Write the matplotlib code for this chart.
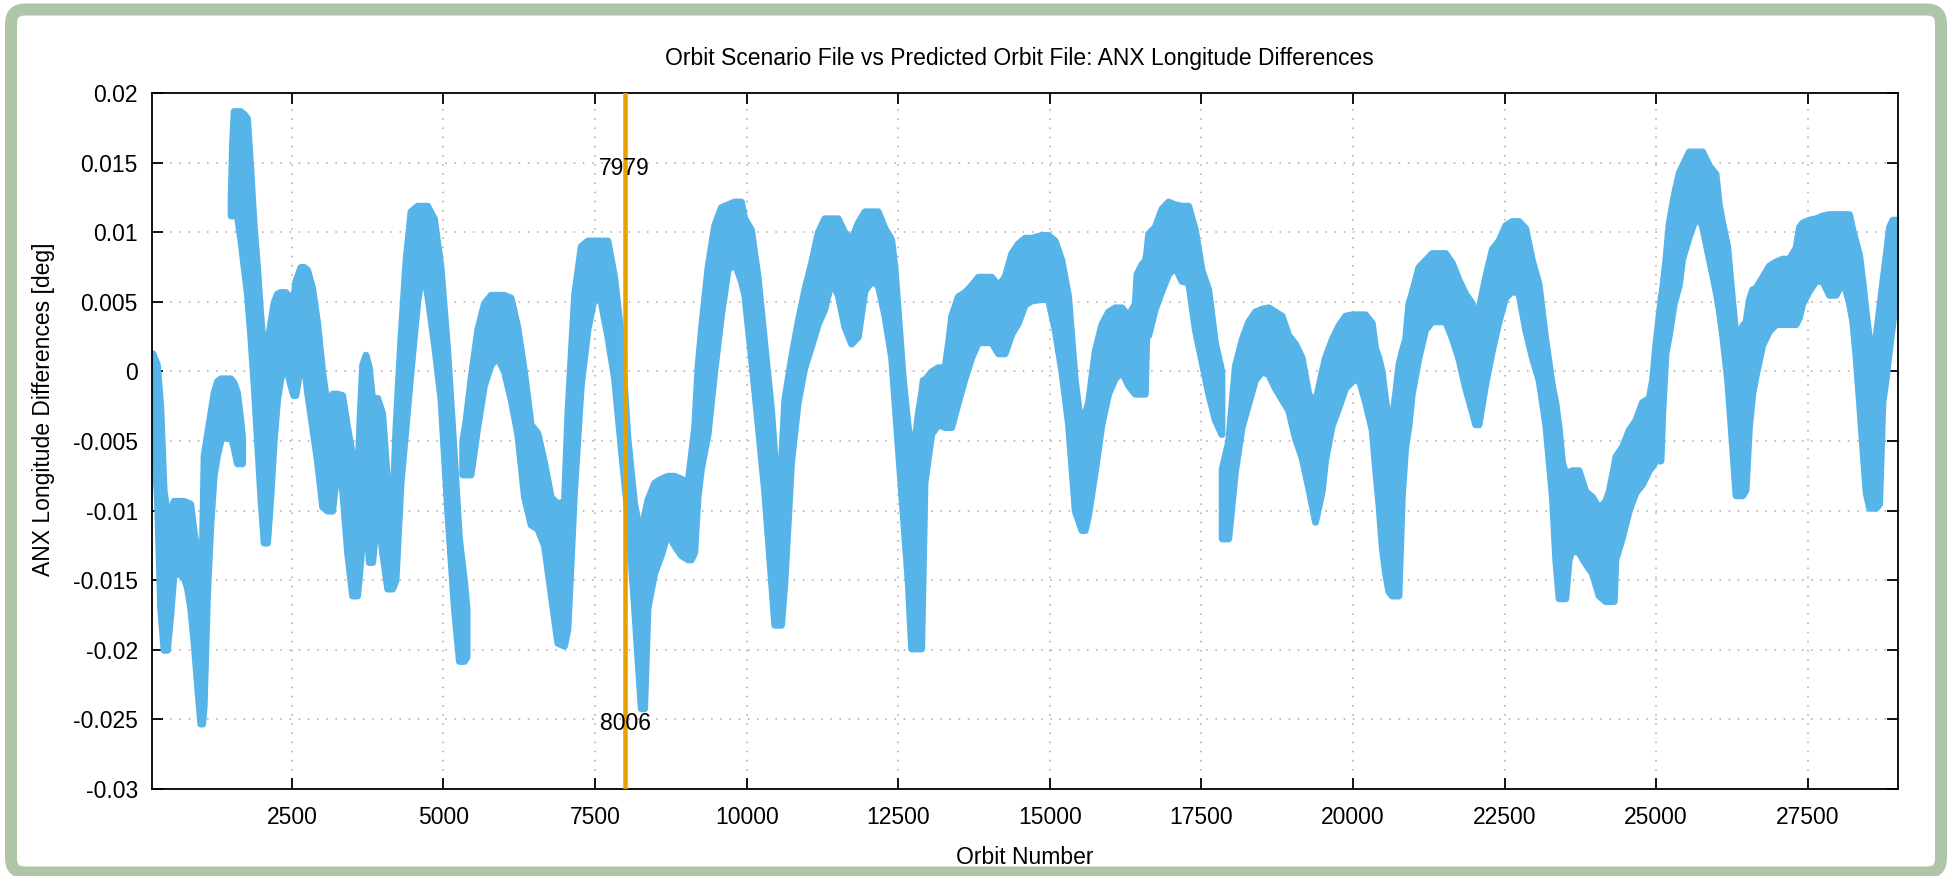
import numpy as np
import matplotlib
matplotlib.use("Agg")
import matplotlib.pyplot as plt
from matplotlib.patches import FancyBboxPatch
from matplotlib.transforms import IdentityTransform

nan = np.nan

# ---- data: band envelope (milli-degrees); nan rows separate segments
orbit = [
    200, 274, 329, 384, 439, 494, 549, 604, 659, 714, 769, 824, 880, 935, 990, 1020, 1045,
    1100, 1155, 1210, 1265, 1320, 1375, 1430, 1485, 1540, 1595, 1650, 1680,
    nan,
    1490, 1515, 1540, 1600, 1650, 1705, 1760, 1815, 1870, 1925, 1980, 2035, 2090, 2145,
    2200, 2256, 2311, 2393, 2476, 2520, 2558, 2641, 2696, 2751, 2834, 2916, 2999, 3081,
    3164, 3246, 3329, 3411, 3494, 3576, 3620, 3659, 3714, 3769, 3824, 3907, 3989, 4072,
    4154, 4209, 4292, 4375, 4457, 4567, 4650, 4732, 4842, 4952, 5062, 5172, 5255, 5337, 5380,
    nan,
    5310, 5365, 5447, 5557, 5667, 5778, 5888, 5998, 6108, 6218, 6328, 6438, 6548, 6658,
    6768, 6878, 6988, 7044, 7154, 7264, 7374, 7484, 7594, 7704, 7814, 7924, 8034, 8144,
    8254, 8309, 8364, 8474, 8584, 8695, 8805, 8915, 9025, 9080, 9135, 9190, 9245, 9355,
    9465, 9575, 9685, 9795, 9905, 9961, 10071, 10181, 10291, 10401, 10456, 10512, 10567,
    10622, 10732, 10842, 10952, 11062, 11172, 11282, 11392, 11502, 11612, 11723, 11833,
    11943, 12053, 12163, 12273, 12383, 12438, 12493, 12575, 12658, 12713, 12768, 12823,
    12878, 12905, 12933, 13043, 13154, 13264, 13320, 13374, 13484, 13594, 13704, 13814,
    13924, 14034, 14145, 14255, 14365, 14475, 14585, 14695, 14860, 14970, 15080, 15191,
    15301, 15411, 15521, 15576, 15631, 15741, 15851, 15961, 16071, 16181, 16291, 16401,
    16430, 16511, 16567, 16590, 16622, 16732, 16842, 16952, 17062, 17172, 17282, 17392,
    17502, 17612, 17722, 17830,
    nan,
    17835, 17942, 18052, 18163, 18273, 18383, 18493, 18603, 18713, 18823, 18933, 19043,
    19153, 19263, 19374, 19484, 19538, 19648, 19758, 19868, 19978, 20089, 20199, 20309,
    20364, 20419, 20474, 20529, 20584, 20639, 20694, 20749, 20804, 20859, 20914, 20969,
    21079, 21189, 21299, 21409, 21520, 21630, 21740, 21850, 21960, 22015, 22070, 22180,
    22290, 22400, 22510, 22620, 22730, 22840, 22950, 23060, 23171, 23281, 23336, 23391,
    23446, 23501, 23556, 23611, 23721, 23831, 23941, 24051, 24161, 24217, 24300, 24327,
    24437, 24547, 24657, 24767, 24878, 24933, 24988, 25071, 25100, 25153, 25208, 25290,
    25373, 25428, 25538, 25620, 25703, 25758, 25868, 25978, 26033, 26088, 26171, 26254,
    26309, 26364, 26419, 26474, 26529, 26584, 26639, 26749, 26859, 26969, 27079, 27189,
    27300, 27355, 27410, 27520, 27630, 27740, 27850, 27960, 28070, 28125, 28180, 28235,
    28290, 28345, 28400, 28455, 28511, 28566, 28621, 28676, 28731, 28786, 28841, 28896,
    28951, 28975,
]
low_mdeg = [
    -4.0, -9.0, -17.0, -20.0, -20.0, -17.5, -14.5, -14.5, -14.6, -14.8, -15.5, -17.0, -19.5,
    -22.5, -25.3, -25.3, -24.0, -16.0, -11.0, -7.5, -6.0, -5.0, -4.5, -4.8, -4.5, -5.5,
    -6.6, -6.6, -6.6,
    nan,
    11.2, 11.2, 11.5, 11.0, 9.5, 7.5, 5.5, 2.5, -1.0, -5.0, -9.0, -12.3, -12.3, -9.0,
    -5.0, -2.0, -0.5, 0.5, -1.0, -1.7, -1.7, 0.5, 0.5, -1.5, -4.0, -6.5, -9.7, -10.0,
    -10.0, -6.8, -8.5, -13.0, -16.1, -16.1, -14.0, -12.0, -9.5, -13.7, -13.7, -10.0, -13.0, -15.6,
    -15.6, -15.0, -8.0, -4.0, 0.0, 5.0, 7.5, 5.5, 2.0, -2.0, -10.0, -17.0, -20.8, -20.8, -20.5,
    nan,
    -7.4, -7.4, -7.4, -4.0, -1.0, 0.5, 1.0, 0.0, -2.0, -4.5, -9.0, -11.0, -11.3, -12.5,
    -16.0, -19.5, -19.7, -18.5, -8.5, -1.0, 3.0, 5.4, 5.0, 2.5, -0.5, -5.5, -10.3, -17.0,
    -24.2, -24.2, -17.0, -14.5, -13.2, -11.6, -12.5, -13.2, -13.5, -13.5, -13.0, -9.0, -7.0, -4.5,
    0.0, 4.0, 7.3, 7.8, 6.5, 5.5, 1.0, -3.8, -8.7, -15.0, -18.2, -18.2, -18.2,
    -15.2, -6.5, -2.2, 0.3, 1.8, 3.4, 4.5, 6.5, 5.5, 3.2, 2.0, 2.5,
    5.8, 6.5, 6.2, 4.0, 1.0, -2.2, -5.5, -10.3, -15.2, -19.9, -19.9, -19.9,
    -19.9, -14.0, -8.0, -4.5, -3.8, -4.0, -4.0, -4.0, -2.2, -0.5, 1.0, 2.1,
    2.1, 2.1, 1.3, 1.3, 2.7, 3.5, 4.8, 5.1, 5.2, 5.2, 3.0, 0.0,
    -3.8, -10.0, -11.4, -11.4, -10.3, -7.2, -3.8, -1.6, -0.5, 0.0, -1.0, -1.6,
    -1.6, -1.6, -1.6, 2.6, 2.6, 4.5, 5.8, 7.0, 7.5, 6.5, 6.4, 3.0,
    0.7, -1.6, -3.5, -4.5,
    nan,
    -12.0, -12.0, -7.2, -4.0, -2.3, -0.6, 0.0, -0.2, -1.2, -2.0, -2.8, -4.8,
    -6.2, -8.4, -10.8, -8.6, -6.4, -3.9, -2.6, -1.2, -0.7, -0.5, -2.2, -4.2,
    -7.0, -9.5, -12.6, -14.5, -15.8, -16.1, -16.1, -16.1, -9.0, -5.5, -3.9, -1.6,
    1.0, 3.0, 3.6, 3.6, 3.6, 2.4, 0.9, -1.2, -2.9, -3.8, -3.8, -0.9,
    1.5, 3.6, 5.3, 5.8, 5.6, 3.0, 1.0, -0.6, -3.8, -9.0, -13.5, -16.3,
    -16.3, -16.3, -13.5, -12.8, -13.0, -13.8, -14.5, -16.1, -16.5, -16.5, -16.5, -13.5,
    -11.9, -10.0, -8.7, -8.1, -7.1, -6.8, -6.4, -6.4, -3.0, 1.3, 2.6, 4.9,
    6.2, 8.1, 9.7, 10.7, 11.0, 10.4, 8.1, 5.8, 4.4, 2.6, -0.6, -5.5,
    -8.9, -8.9, -8.9, -8.5, -4.0, -1.6, -0.3, 1.9, 2.9, 3.4, 3.4, 3.4,
    3.4, 3.9, 4.9, 5.8, 6.5, 6.5, 5.5, 5.5, 6.5, 5.8, 4.9, 3.6,
    1.0, -2.2, -5.5, -8.7, -9.8, -9.8, -9.8, -9.5, -2.2, -0.5, 1.6, 3.5,
    5.5, 7.0,
]
high_mdeg = [
    1.3, 0.5, -2.5, -8.5, -10.2, -10.0, -9.3, -9.3, -9.3, -9.3, -9.4, -9.5, -11.5, -13.0,
    -14.8, -12.0, -6.0, -4.5, -3.0, -1.5, -0.7, -0.5, -0.5, -0.5, -0.5, -0.8, -1.5, -3.5, -4.8,
    nan,
    12.5, 16.5, 18.7, 18.7, 18.7, 18.5, 18.2, 14.5, 10.5, 7.5, 4.0, 1.3, 2.0, 3.5,
    5.0, 5.6, 5.7, 5.7, 5.3, 5.2, 6.5, 7.5, 7.5, 7.3, 6.0, 3.5, 0.0, -2.5,
    -1.6, -1.6, -1.7, -4.0, -6.0, -8.0, -3.0, 0.5, 1.2, 0.3, -2.0, -1.9, -3.0, -8.0,
    -10.0, -4.0, 2.5, 8.0, 11.5, 11.9, 11.9, 11.9, 11.0, 7.5, 1.5, -6.0, -12.0, -15.0, -17.0,
    nan,
    -5.0, -3.5, -0.5, 3.0, 4.9, 5.5, 5.5, 5.5, 5.3, 3.2, 0.0, -3.8, -4.4, -6.5,
    -9.0, -9.5, -9.3, -3.0, 5.5, 9.0, 9.4, 9.4, 9.4, 9.4, 6.8, 2.6, -4.8, -9.5,
    -12.0, -10.3, -9.2, -8.0, -7.7, -7.5, -7.5, -7.7, -8.0, -6.0, -4.0, 0.3, 3.0, 7.5,
    10.5, 11.8, 12.0, 12.2, 12.2, 11.0, 10.2, 6.8, 2.0, -2.7, -6.0, -8.0, -6.5,
    -2.0, 1.0, 3.6, 5.9, 7.8, 10.0, 11.0, 11.0, 11.0, 10.0, 9.5, 10.7,
    11.5, 11.5, 11.5, 10.3, 9.5, 7.5, 4.3, -0.5, -4.0, -5.5, -5.0, -3.0,
    -1.5, -0.6, -0.6, 0.0, 0.3, 0.3, 2.0, 4.0, 5.4, 5.7, 6.2, 6.8,
    6.8, 6.8, 6.2, 6.8, 8.5, 9.2, 9.6, 9.6, 9.8, 9.8, 9.4, 8.0,
    5.4, -0.6, -4.4, -3.0, -2.2, 1.5, 3.4, 4.3, 4.6, 4.6, 4.0, 4.9,
    7.0, 7.7, 8.0, 8.5, 9.9, 10.4, 11.7, 12.2, 12.0, 11.9, 11.9, 10.2,
    7.3, 5.9, 2.1, 0.0,
    nan,
    -7.0, -5.0, 0.4, 2.3, 3.6, 4.3, 4.5, 4.6, 4.3, 4.0, 2.6, 2.0,
    1.0, -1.6, -2.2, 0.0, 1.0, 2.3, 3.3, 4.0, 4.1, 4.1, 4.1, 3.5,
    1.7, 1.0, 0.0, -2.0, -3.5, -3.5, -1.6, 0.5, 1.5, 2.3, 4.9, 5.7,
    7.5, 8.0, 8.5, 8.5, 8.5, 7.8, 6.6, 5.6, 4.9, 3.3, 4.5, 6.8,
    8.8, 9.4, 10.5, 10.8, 10.8, 10.3, 8.0, 6.3, 2.3, -1.0, -2.2, -4.0,
    -6.5, -7.3, -7.2, -7.1, -7.1, -8.6, -9.0, -9.8, -9.3, -8.6, -6.8, -6.1,
    -5.4, -4.2, -3.5, -2.2, -1.9, -0.6, 2.0, 5.2, 6.0, 8.1, 10.7, 12.7,
    14.3, 14.8, 15.8, 15.8, 15.8, 15.8, 14.8, 14.2, 12.0, 10.7, 9.0, 5.0,
    2.6, 2.4, 3.3, 3.6, 5.2, 5.9, 6.0, 6.8, 7.6, 7.9, 8.1, 8.1,
    8.9, 10.4, 10.7, 10.9, 11.0, 11.2, 11.3, 11.3, 11.3, 11.3, 11.3, 10.2,
    9.3, 8.4, 6.5, 4.3, 2.3, 2.0, 2.6, 4.5, 6.5, 8.4, 10.4, 10.9,
    10.9, 10.7,
]

marked_orbits = [7979, 8006]
marked_labels = ["7979", "8006"]
marked_label_y = [0.0146, -0.0253]

title = "Orbit Scenario File vs Predicted Orbit File: ANX Longitude Differences"
xlabel = "Orbit Number"
ylabel = "ANX Longitude Differences [deg]"
xticks = [2500, 5000, 7500, 10000, 12500, 15000, 17500, 20000, 22500, 25000, 27500]
yticks = [-0.03, -0.025, -0.02, -0.015, -0.01, -0.005, 0, 0.005, 0.01, 0.015, 0.02]
ytick_labels = ["-0.03", "-0.025", "-0.02", "-0.015", "-0.01", "-0.005", "0",
                "0.005", "0.01", "0.015", "0.02"]
xlim = (190, 28980)
ylim = (-0.03, 0.02)

# ---- styling
BLUE = "#56B4E9"
ORANGE = "#E69F00"
BORDER = "#AFC5A8"
W, H = 1948, 876
FS = 16.5

plt.rcParams['font.family'] = ['Liberation Sans', 'DejaVu Sans']

fig = plt.figure(figsize=(W / 100, H / 100), dpi=100)
fig.patch.set_facecolor("white")

# rounded green frame (pixel coordinates)
frame = FancyBboxPatch((11, 3.5), 1930, 863,
                       boxstyle="round,pad=0,rounding_size=14",
                       transform=IdentityTransform(), facecolor="none",
                       edgecolor=BORDER, linewidth=12 * 72 / 100, zorder=-5)
fig.patches.append(frame)

left, right, top, bottom = 151.8, 1897.5, 93, 789
ax = fig.add_axes([left / W, (H - bottom) / H, (right - left) / W, (bottom - top) / H])
ax.set_facecolor("white")
ax.set_zorder(2)

o = np.array(orbit, dtype=float)
lo = np.array(low_mdeg, dtype=float) * 1e-3
hi = np.array(high_mdeg, dtype=float) * 1e-3
breaks = np.where(np.isnan(o))[0]
starts = np.concatenate([[0], breaks + 1])
ends = np.concatenate([breaks, [len(o)]])
for s, e in zip(starts, ends):
    ax.fill_between(o[s:e], lo[s:e], hi[s:e], color=BLUE, edgecolor=BLUE,
                    linewidth=5.0, joinstyle="round", zorder=2)

for xo in marked_orbits:
    ax.axvline(xo, color=ORANGE, linewidth=1.8, zorder=3)
for xo, lab, yy in zip(marked_orbits, marked_labels, marked_label_y):
    ax.text(xo, yy, lab, ha="center", va="center", fontsize=FS, color="black", zorder=4)

ax.set_xlim(*xlim)
ax.set_ylim(*ylim)
ax.set_xticks(xticks)
ax.set_xticklabels([str(t) for t in xticks])
ax.set_yticks(yticks)
ax.set_yticklabels(ytick_labels)

ax.set_axisbelow(True)
ax.grid(True, color="#a8a8a8", linestyle=(0, (1, 5)), linewidth=1.1)
ax.tick_params(direction="in", length=8, width=1.3, top=True, right=True,
               labelsize=FS, colors="black")
ax.tick_params(axis="x", pad=12)
ax.tick_params(axis="y", pad=10)
for sp in ax.spines.values():
    sp.set_linewidth(1.3)
    sp.set_color("black")

ax.set_xlabel(xlabel, fontsize=FS)
ax.xaxis.set_label_coords(0.5, (bottom - 857) / (bottom - top))
ax.xaxis.label.set_va("center")
ax.set_ylabel(ylabel, fontsize=FS)
ax.yaxis.set_label_coords((43.5 - left) / (right - left), 1 - (409 - top) / (bottom - top))
ax.yaxis.label.set_va("center")

fig.text(1019 / W, 1 - 58 / H, title, ha="center", va="center", fontsize=FS)

fig.savefig("out.png", dpi=100)
